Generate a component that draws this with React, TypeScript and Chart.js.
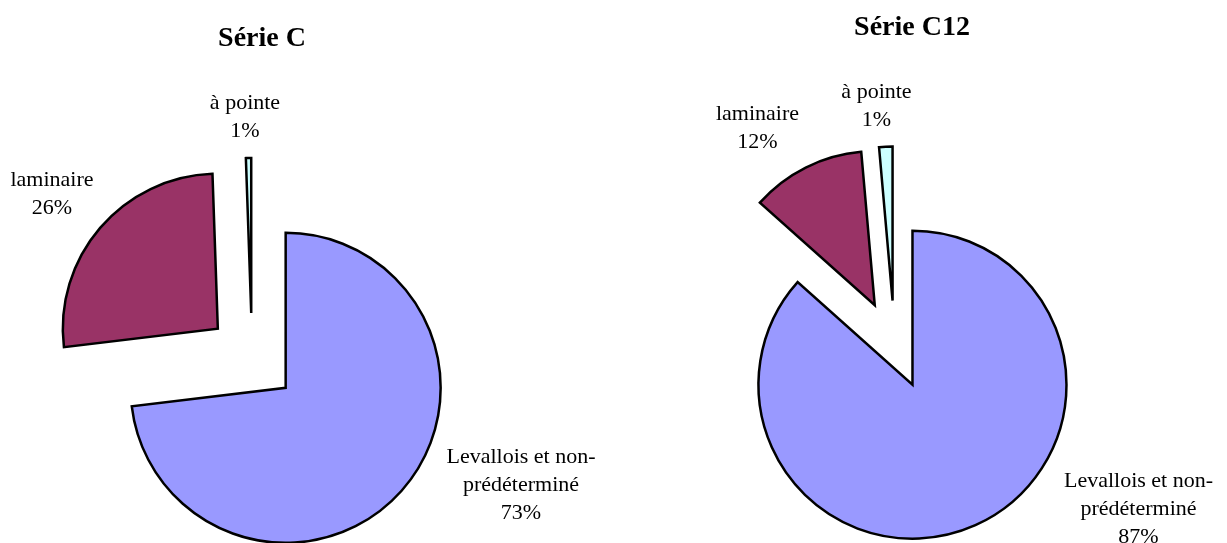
import React, { useEffect, useRef } from 'react';
import { Chart, registerables } from 'chart.js';

Chart.register(...registerables);

// ---- Data ----
const categories: string[][] = [["Levallois et non-", "prédéterminé"], ["laminaire"], ["à pointe"]];
const serieCValues = [73.1, 26.35, 0.55];
const serieC12Values = [86.6, 12.0, 1.4];
const chartTitles = ["Série C", "Série C12"];
const sliceColors = ['#9999FF', '#993366', '#CCFFFF'];

const FONT = "'Liberation Serif', 'Times New Roman', serif";

type Layout = {
  left: number;
  width: number;
  height: number;
  titleTop: number;
  titleBottom: number;
  radius: number;
  dx: number;
  dy: number;
  explode: number;
  labelOffsets: number[][];
};

const layoutC: Layout = {
  left: -76, width: 676, height: 543,
  titleTop: 22, titleBottom: 117.4,
  radius: 155, dx: -10, dy: 0, explode: 45,
  labelOffsets: [[269, 105], [-200, -172], [-7, -249]],
};

const layoutC12: Layout = {
  left: 600, width: 624, height: 543,
  titleTop: 10.7, titleBottom: 101.7,
  radius: 154, dx: -17.5, dy: 0, explode: 44,
  labelOffsets: [[244, 142], [-137, -225], [-18, -247]],
};

const explodePlugin = {
  id: 'explode',
  afterDatasetUpdate(chart: any, args: any, opts: any) {
    const meta = args.meta;
    meta.data.forEach((arc: any) => {
      const mid = (arc.startAngle + arc.endAngle) / 2;
      arc.x += opts.dx + Math.cos(mid) * opts.distance;
      arc.y += opts.dy + Math.sin(mid) * opts.distance;
    });
  },
};

const sliceLabelPlugin = {
  id: 'sliceLabels',
  afterDatasetsDraw(chart: any, _args: any, opts: any) {
    const ctx = chart.ctx;
    const ca = chart.chartArea;
    const cx = (ca.left + ca.right) / 2 + opts.dx;
    const cy = (ca.top + ca.bottom) / 2 + opts.dy;
    const data: number[] = chart.data.datasets[0].data;
    const labels: string[][] = chart.data.labels;
    const total = data.reduce((a, b) => a + b, 0);
    ctx.save();
    ctx.font = `${opts.size}px ${FONT}`;
    ctx.fillStyle = '#000';
    ctx.textAlign = 'center';
    ctx.textBaseline = 'alphabetic';
    data.forEach((v, i) => {
      const lines = [...labels[i], `${Math.round((v / total) * 100)}%`];
      const [ox, oy] = opts.offsets[i];
      lines.forEach((ln, j) => {
        ctx.fillText(ln, cx + ox, cy + oy + j * opts.lineHeight);
      });
    });
    ctx.restore();
  },
};

function PieChart({ title, values, layout }: { title: string; values: number[]; layout: Layout }) {
  const ref = useRef<HTMLCanvasElement>(null);
  useEffect(() => {
    if (!ref.current) return;
    const chart = new Chart(ref.current, {
      type: 'pie',
      data: {
        labels: categories as any,
        datasets: [
          {
            data: values,
            backgroundColor: sliceColors,
            borderColor: '#000000',
            borderWidth: 2.5,
            borderJoinStyle: 'miter',
            radius: layout.radius,
          } as any,
        ],
      },
      options: {
        responsive: false,
        animation: false,
        events: [],
        layout: { padding: 0 },
        plugins: {
          legend: { display: false },
          tooltip: { enabled: false },
          title: {
            display: true,
            text: title,
            color: '#000',
            font: { family: FONT, size: 28, weight: 'bold', lineHeight: 1.2 },
            padding: { top: layout.titleTop, bottom: layout.titleBottom },
          },
          explode: { dx: layout.dx, dy: layout.dy, distance: layout.explode },
          sliceLabels: {
            dx: layout.dx, dy: layout.dy, offsets: layout.labelOffsets,
            size: 22, lineHeight: 28,
          },
        } as any,
      },
      plugins: [explodePlugin, sliceLabelPlugin],
    });
    return () => chart.destroy();
  }, [title, values, layout]);
  return (
    <canvas
      ref={ref}
      width={layout.width}
      height={layout.height}
      style={{ position: 'absolute', left: layout.left, top: 0, width: layout.width, height: layout.height }}
    />
  );
}

export default function App() {
  return (
    <div style={{ position: 'fixed', left: 0, top: 0, width: 1227, height: 543, overflow: 'hidden', background: '#fff' }}>
      <PieChart title={chartTitles[0]} values={serieCValues} layout={layoutC} />
      <PieChart title={chartTitles[1]} values={serieC12Values} layout={layoutC12} />
    </div>
  );
}
